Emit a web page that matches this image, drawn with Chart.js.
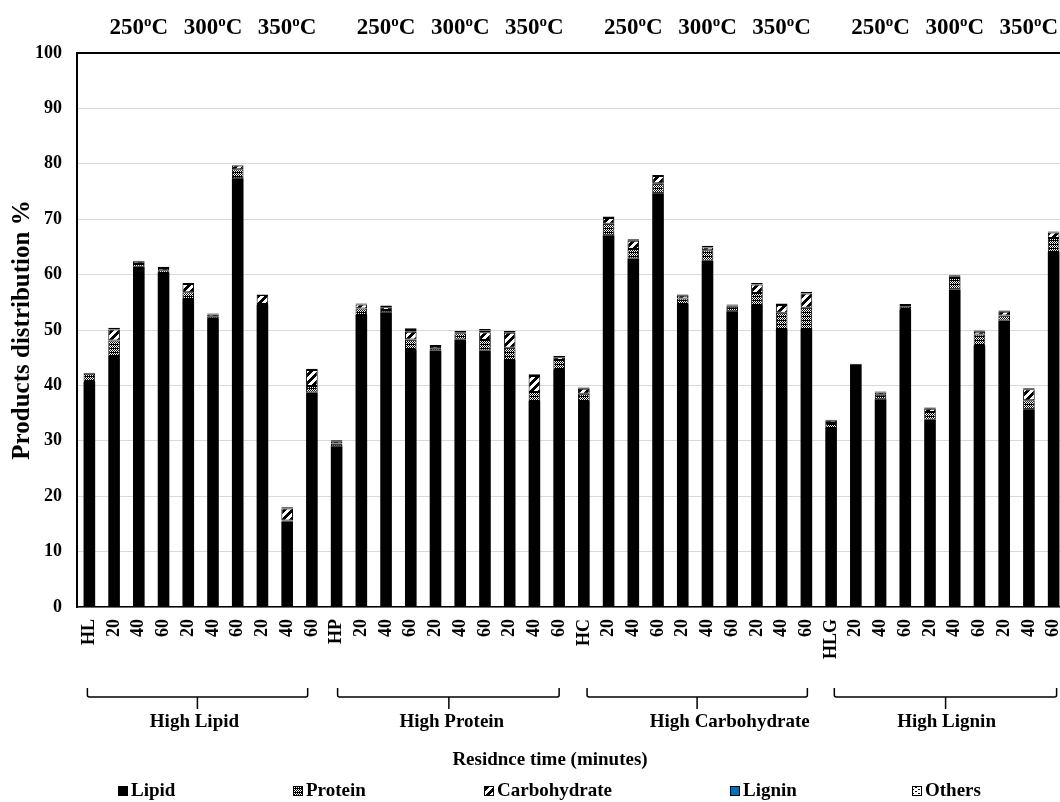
<!DOCTYPE html>
<html>
<head>
<meta charset="utf-8">
<script src="https://cdn.jsdelivr.net/npm/chart.js@4.4.1/dist/chart.umd.min.js"></script>
<style>
  html, body { margin: 0; padding: 0; background: #fff; overflow: hidden; }
  #wrap { position: relative; width: 1066px; height: 802px; }
</style>
</head>
<body>
<div id="wrap"><canvas id="c"></canvas></div>
<script>
// ---- data ----
const categories = [
  'HL','20','40','60','20','40','60','20','40','60',
  'HP','20','40','60','20','40','60','20','40','60',
  'HC','20','40','60','20','40','60','20','40','60',
  'HLG','20','40','60','20','40','60','20','40','60'
];
const lipid = [
  40.6, 45.3, 61.4, 60.3, 55.6, 52.0, 77.4, 54.5, 15.4, 38.7,
  29.0, 52.7, 53.2, 46.4, 46.3, 48.3, 46.3, 44.6, 37.2, 42.8,
  37.2, 67.1, 62.9, 74.7, 54.7, 62.5, 53.4, 54.5, 50.2, 50.2,
  32.3, 43.8, 37.5, 53.6, 33.8, 57.3, 47.1, 51.7, 35.7, 64.1
];
const protein = [
  1.5, 2.8, 0.5, 0.5, 1.2, 0.4, 1.6, 0.2, 0.2, 1.2,
  0.5, 1.2, 0.4, 1.9, 0.4, 1.1, 1.9, 2.2, 1.6, 1.8,
  1.3, 2.1, 1.7, 1.8, 1.0, 1.9, 0.8, 2.2, 2.9, 3.8,
  0.9, 0.0, 0.8, 0.6, 1.4, 2.1, 2.1, 0.9, 1.6, 2.5
];
const carbohydrate = [
  0.0, 2.0, 0.4, 0.4, 1.5, 0.4, 0.7, 1.6, 2.2, 2.9,
  0.4, 0.7, 0.5, 1.4, 0.4, 0.2, 1.4, 2.7, 2.9, 0.5,
  0.9, 1.0, 1.5, 1.3, 0.5, 0.5, 0.2, 1.5, 1.4, 2.6,
  0.4, 0.0, 0.4, 0.3, 0.6, 0.3, 0.5, 0.7, 2.0, 1.0
];
const lignin = [
  0, 0, 0, 0, 0, 0, 0, 0, 0, 0,
  0, 0, 0, 0.3, 0, 0, 0.3, 0, 0, 0,
  0, 0, 0, 0, 0, 0, 0, 0, 0, 0,
  0, 0, 0, 0, 0, 0, 0, 0, 0, 0
];
const others = [
  0.2, 0.3, 0.2, 0.2, 0.2, 0.2, 0.1, 0.1, 0.2, 0.2,
  0.2, 0.2, 0.3, 0.3, 0.2, 0.2, 0.3, 0.3, 0.3, 0.2,
  0.2, 0.3, 0.3, 0.2, 0.2, 0.3, 0.2, 0.3, 0.3, 0.3,
  0.2, 0.1, 0.2, 0.2, 0.2, 0.2, 0.2, 0.2, 0.2, 0.2
];
const seriesNames = ['Lipid', 'Protein', 'Carbohydrate', 'Lignin', 'Others'];
const groupNames = ['High Lipid', 'High Protein', 'High Carbohydrate', 'High Lignin'];
const temperatures = ['250', '300', '350'];
const xTitle = 'Residnce time (minutes)';
const yTitle = 'Products distribution %';

// ---- styling ----
const FONT = '"Liberation Serif", "Times New Roman", serif';
const canvas = document.getElementById('c');
const ctx = canvas.getContext('2d');

function tile(w, h, paint) {
  const t = document.createElement('canvas');
  t.width = w; t.height = h;
  const g = t.getContext('2d');
  g.fillStyle = '#fff';
  g.fillRect(0, 0, w, h);
  g.fillStyle = '#000';
  paint(g);
  return ctx.createPattern(t, 'repeat');
}
// fine checker
const proteinFill = tile(4, 4, g => {
  g.fillRect(0, 0, 1, 1); g.fillRect(2, 0, 1, 1);
  g.fillRect(1, 1, 1, 1); g.fillRect(3, 1, 1, 1);
  g.fillRect(0, 2, 1, 1); g.fillRect(2, 2, 1, 1);
  g.fillRect(1, 3, 1, 1); g.fillRect(3, 3, 1, 1);
  g.fillRect(0, 0, 4, 1);
});
// wide upward diagonal
const carbFill = tile(8, 8, g => {
  for (let y = 0; y < 8; y++)
    for (let x = 0; x < 8; x++)
      if ((x + y) % 8 < 4) g.fillRect(x, y, 1, 1);
});
// short dashes
const othersFill = tile(6, 4, g => {
  g.fillRect(0, 1, 2, 1);
  g.fillRect(3, 3, 2, 1);
});
const ligninFill = '#0070C0';

const fills = ['#000', proteinFill, carbFill, ligninFill, othersFill];
const values = [lipid, protein, carbohydrate, lignin, others];

// brackets under each group: [left, right, tick, label] in category units from the group's first bar
const bracketSpec = [
  [-0.08, 8.83, 4.37, 4.25],
  [0.04, 9.0, 4.54, 4.66],
  [0.13, 9.04, 4.58, 5.9],
  [0.13, 9.12, 4.63, 4.67]
];
const legendX = [118, 293, 484, 730, 912];

const decor = {
  id: 'decor',
  afterDraw(chart) {
    const c = chart.ctx;
    const xs = chart.scales.x;
    const area = chart.chartArea;
    const px = v => xs.getPixelForValue(v);
    const step = px(1) - px(0);
    c.save();

    // plot frame top edge
    c.strokeStyle = '#000';
    c.lineWidth = 2;
    c.beginPath();
    c.moveTo(area.left, area.top);
    c.lineTo(area.right, area.top);
    c.stroke();

    c.fillStyle = '#000';

    // temperature headings
    groupNames.forEach((_, gi) => {
      temperatures.forEach((t, ti) => {
        const cx = px(gi * 10 + 2 + ti * 3);
        const big = 'bold 23px ' + FONT, small = 'bold 15px ' + FONT;
        c.font = big;
        const w1 = c.measureText(t).width, w3 = c.measureText('C').width;
        c.font = small;
        const w2 = c.measureText('o').width;
        let x = cx - (w1 + w2 + w3) / 2;
        c.textAlign = 'left';
        c.textBaseline = 'alphabetic';
        c.font = big; c.fillText(t, x, 34); x += w1;
        c.font = small; c.fillText('o', x, 26); x += w2;
        c.font = big; c.fillText('C', x, 34);
      });
    });

    // group brackets and names
    c.lineWidth = 1.5;
    c.strokeStyle = '#000';
    bracketSpec.forEach((b, gi) => {
      const base = px(gi * 10);
      const l = base + b[0] * step, r = base + b[1] * step, m = base + b[2] * step;
      c.beginPath();
      c.moveTo(l, 688);
      c.lineTo(l, 695);
      c.quadraticCurveTo(l, 697, l + 2, 697);
      c.lineTo(r - 2, 697);
      c.quadraticCurveTo(r, 697, r, 695);
      c.lineTo(r, 688);
      c.moveTo(m, 697);
      c.lineTo(m, 709);
      c.stroke();
      c.font = 'bold 19px ' + FONT;
      c.textAlign = 'center';
      c.textBaseline = 'middle';
      c.fillText(groupNames[gi], base + b[3] * step, 722);
    });

    // axis title
    c.font = 'bold 19px ' + FONT;
    c.textAlign = 'center';
    c.textBaseline = 'middle';
    c.fillText(xTitle, 550, 760);

    // legend
    seriesNames.forEach((name, i) => {
      const x = legendX[i], y = 791;
      c.fillStyle = fills[i];
      c.fillRect(x, y - 5, 10, 10);
      c.strokeStyle = '#000';
      c.lineWidth = 1;
      c.strokeRect(x + 0.5, y - 4.5, 9, 9);
      c.fillStyle = '#000';
      c.font = 'bold 19px ' + FONT;
      c.textAlign = 'left';
      c.fillText(name, x + 13, y);
    });
    c.restore();
  }
};

new Chart(ctx, {
  type: 'bar',
  data: {
    labels: categories,
    datasets: seriesNames.map((name, i) => ({
      label: name,
      data: values[i],
      backgroundColor: fills[i],
      borderColor: '#000',
      borderWidth: i === 0 ? 0 : 1,
      borderSkipped: false
    }))
  },
  options: {
    responsive: true,
    maintainAspectRatio: false,
    animation: false,
    layout: { padding: { top: 53, left: 0, right: 0, bottom: 0 } },
    datasets: { bar: { categoryPercentage: 1, barPercentage: 0.47 } },
    plugins: { legend: { display: false }, tooltip: { enabled: false } },
    scales: {
      x: {
        stacked: true,
        grid: { display: false, drawTicks: false },
        border: { color: '#000', width: 1.5 },
        ticks: {
          autoSkip: false, minRotation: 90, maxRotation: 90, padding: 12,
          color: '#000', font: { family: FONT, size: 18, weight: 'bold' }
        },
        afterFit(s) { s.height = 195; s.paddingLeft = 0; s.paddingRight = 0; }
      },
      y: {
        stacked: true,
        min: 0, max: 100,
        grid: { color: '#d9d9d9', drawTicks: false },
        border: { color: '#000', width: 2 },
        ticks: {
          stepSize: 10, padding: 15,
          color: '#000', font: { family: FONT, size: 18, weight: 'bold' }
        },
        title: {
          display: true, text: yTitle, color: '#000',
          font: { family: FONT, size: 25, weight: 'bold' },
          padding: { top: 8, bottom: 0 }
        },
        afterFit(s) { s.width = 77; s.paddingTop = 0; s.paddingBottom = 0; }
      }
    }
  },
  plugins: [decor]
});
</script>
</body>
</html>
